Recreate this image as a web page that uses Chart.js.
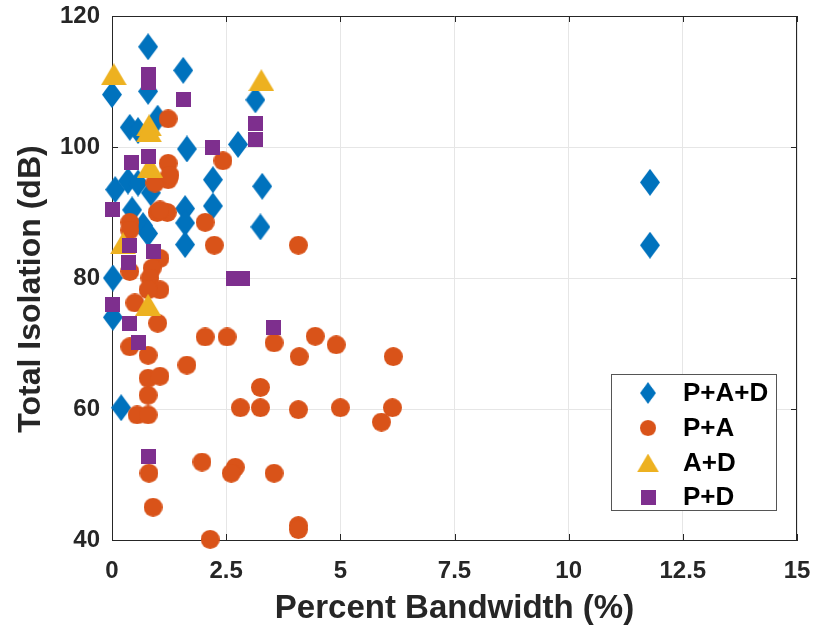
<!DOCTYPE html>
<html><head><meta charset="utf-8">
<script src="https://cdn.jsdelivr.net/npm/chart.js@4"></script>
<style>html,body{margin:0;padding:0;background:#fff}#wrap{width:815px;height:632px}</style>
</head><body><div id="wrap"><canvas id="c" width="815" height="632"></canvas></div>
<script>
const seriesNames = ['P+A+D', 'P+A', 'A+D', 'P+D'];
const xTitle = 'Percent Bandwidth (%)';
const yTitle = 'Total Isolation (dB)';

const padX = [0.0, 0.79, 0.79, 1.56, 3.14, 0.39, 0.57, 1.0, 1.64, 2.76, 0.07, 0.35, 0.57, 0.44, 0.68, 0.79, 0.85, 2.21, 2.21, 1.6, 1.6, 1.6, 3.29, 3.25, 0.02, 0.02, 0.2, 11.78, 11.78];
const padY = [108, 115.3, 108.5, 111.7, 107.2, 103, 102.5, 104.4, 99.7, 100.4, 93.5, 94.8, 94.5, 90.4, 88, 86.8, 93, 95, 91, 90.6, 88.4, 85.1, 94, 87.8, 80, 74, 60.2, 94.6, 85];

const paX = [1.23, 2.43, 1.23, 1.23, 0.94, 0.99, 1.21, 0.39, 0.39, 2.04, 2.24, 1.05, 0.88, 0.39, 0.83, 1.05, 0.79, 0.5, 1.0, 0.39, 0.79, 2.04, 2.52, 1.64, 3.55, 4.1, 4.45, 4.91, 6.16, 0.79, 1.05, 0.79, 0.55, 0.79, 3.25, 2.81, 3.25, 4.08, 5.0, 6.14, 5.9, 1.97, 2.7, 2.61, 3.55, 0.81, 0.9, 2.15, 4.08, 4.08, 4.08, 1.27, 1.05];
const paY = [104.3, 97.9, 97.5, 95, 94.5, 90, 90, 88.5, 87.3, 88.5, 85, 83, 81.5, 81, 80, 78.2, 78.2, 76.2, 73.1, 69.5, 68.2, 71, 71, 66.7, 70.1, 68, 71.1, 69.8, 68, 64.7, 65, 62.1, 59.1, 59.1, 63.3, 60.2, 60.2, 59.9, 60.2, 60.2, 58, 51.9, 51.1, 50.2, 50.2, 50.2, 45, 40.1, 42.2, 41.6, 85, 95.7, 90.4];

const adX = [0.04, 3.27, 0.81, 0.81, 0.83, 0.24, 0.79];
const adY = [111.1, 110.2, 103.3, 102.4, 97, 85.3, 75.9];

const pdX = [0.79, 0.79, 1.56, 3.14, 3.14, 2.21, 0.42, 0.81, 0.0, 0.39, 0.9, 0.37, 2.65, 2.85, 0.0, 0.39, 0.57, 3.53, 0.81];
const pdY = [111.1, 109.9, 107.2, 103.6, 101.2, 100, 97.6, 98.5, 90.4, 85, 84, 82.3, 80, 80, 76, 73.1, 70.1, 72.5, 52.7];

const xTickValues = [0, 2.5, 5, 7.5, 10, 12.5, 15];
const xTickLabels = ['0', '2.5', '5', '7.5', '10', '12.5', '15'];
const yTickValues = [40, 60, 80, 100, 120];
const yTickLabels = ['40', '60', '80', '100', '120'];

const colors = ['#0072BD', '#D95319', '#EDB120', '#7E2F8E'];

function makeMarker(shape, color) {
  const c = document.createElement('canvas');
  let w, h;
  if (shape === 'diamond') { w = 20; h = 27; }
  else if (shape === 'circle') { w = 19; h = 19; }
  else if (shape === 'triangle') { w = 26; h = 22; }
  else { w = 15; h = 15; }
  c.width = w; c.height = h;
  const g = c.getContext('2d');
  g.fillStyle = color;
  g.beginPath();
  if (shape === 'diamond') {
    g.moveTo(w / 2, 0); g.lineTo(w, h / 2); g.lineTo(w / 2, h); g.lineTo(0, h / 2); g.closePath();
  } else if (shape === 'circle') {
    g.arc(w / 2, h / 2, w / 2, 0, Math.PI * 2);
  } else if (shape === 'triangle') {
    g.moveTo(w / 2, 0); g.lineTo(w, h); g.lineTo(0, h); g.closePath();
  } else {
    g.rect(0, 0, w, h);
  }
  g.fill();
  return c;
}
const shapes = ['diamond', 'circle', 'triangle', 'square'];
const markers = shapes.map((s, i) => makeMarker(s, colors[i]));

function pts(xs, ys) { return xs.map((x, i) => ({ x: x, y: ys[i] })); }
const seriesData = [pts(padX, padY), pts(paX, paY), pts(adX, adY), pts(pdX, pdY)];

const FONT = '"Liberation Sans", Arial, sans-serif';
const AXC = '#262626';

const borderPlugin = {
  id: 'borderPlugin',
  beforeDatasetsDraw(chart) {
    const { ctx, chartArea: a, scales } = chart;
    ctx.save();
    ctx.strokeStyle = AXC; ctx.lineWidth = 1;
    ctx.beginPath();
    ctx.moveTo(a.left, a.top + 0.5); ctx.lineTo(a.right, a.top + 0.5);
    ctx.moveTo(a.right - 0.5, a.top); ctx.lineTo(a.right - 0.5, a.bottom);
    xTickValues.forEach(v => {
      const px = Math.round(scales.x.getPixelForValue(v)) + 0.5;
      ctx.moveTo(px, a.bottom); ctx.lineTo(px, a.bottom - 6);
      ctx.moveTo(px, a.top); ctx.lineTo(px, a.top + 6);
    });
    yTickValues.forEach(v => {
      const py = Math.round(scales.y.getPixelForValue(v)) + 0.5;
      ctx.moveTo(a.left, py); ctx.lineTo(a.left + 6, py);
      ctx.moveTo(a.right, py); ctx.lineTo(a.right - 6, py);
    });
    ctx.stroke();
    // y-axis title
    ctx.save();
    ctx.translate(31, 289);
    ctx.rotate(-Math.PI / 2);
    ctx.font = 'bold 32px ' + FONT;
    ctx.fillStyle = AXC;
    ctx.textAlign = 'center';
    ctx.textBaseline = 'middle';
    ctx.fillText(yTitle, 0, 0);
    ctx.restore();
    ctx.restore();
  }
};

const legendPlugin = {
  id: 'boxLegend',
  afterDraw(chart) {
    const ctx = chart.ctx;
    const left = 611, top = 374, w = 165, h = 136;
    ctx.save();
    ctx.fillStyle = '#fff';
    ctx.fillRect(left, top, w, h);
    ctx.strokeStyle = '#555'; ctx.lineWidth = 1;
    ctx.strokeRect(left + 0.5, top + 0.5, w, h);
    ctx.font = 'bold 26px ' + FONT;
    ctx.fillStyle = '#000';
    ctx.textBaseline = 'middle';
    ctx.textAlign = 'left';
    const rowY = [393, 428, 463, 497];
    seriesNames.forEach((name, i) => {
      const m = markers[i];
      const s = i === 0 ? 0.8 : (i === 3 ? 1 : 0.85);
      const mw = m.width * s, mh = m.height * s;
      ctx.drawImage(m, 648 - mw / 2, rowY[i] - mh / 2, mw, mh);
      ctx.fillText(name, 683, rowY[i] + 1);
    });
    ctx.restore();
  }
};

const datasets = seriesNames.map((name, i) => ({
  label: name,
  data: seriesData[i],
  pointStyle: markers[i],
  pointRadius: 10,
  backgroundColor: colors[i],
  borderColor: colors[i],
  showLine: false,
  clip: false,
  order: 4 - i
}));

new Chart(document.getElementById('c'), {
  type: 'scatter',
  data: { datasets: datasets },
  options: {
    responsive: false,
    animation: false,
    devicePixelRatio: 1,
    layout: { padding: { top: 16, right: 18, left: 0, bottom: 0 } },
    plugins: { legend: { display: false }, tooltip: { enabled: false } },
    scales: {
      x: {
        type: 'linear', min: 0, max: 15,
        afterBuildTicks: s => { s.ticks = xTickValues.map(v => ({ value: v })); },
        afterFit: s => { s.height = 92; s.paddingLeft = 0; s.paddingRight = 0; },
        ticks: {
          callback: (v) => xTickLabels[xTickValues.indexOf(v)],
          font: { family: FONT, size: 24, weight: 'bold' }, color: AXC,
          padding: 17, maxRotation: 0, autoSkip: false
        },
        grid: { color: '#e6e6e6', drawTicks: false, lineWidth: 1 },
        border: { color: AXC, width: 1 },
        title: { display: true, text: xTitle, font: { family: FONT, size: 33, weight: 'bold' }, color: AXC, padding: { top: 0, bottom: 3 } }
      },
      y: {
        type: 'linear', min: 40, max: 120,
        afterBuildTicks: s => { s.ticks = yTickValues.map(v => ({ value: v })); },
        afterFit: s => { s.width = 112; s.paddingTop = 0; s.paddingBottom = 0; },
        ticks: {
          callback: (v) => yTickLabels[yTickValues.indexOf(v)],
          font: { family: FONT, size: 24, weight: 'bold' }, color: AXC,
          padding: 12, autoSkip: false
        },
        grid: { color: '#e6e6e6', drawTicks: false, lineWidth: 1 },
        border: { color: AXC, width: 1 },
        title: { display: false, text: yTitle }
      }
    }
  },
  plugins: [borderPlugin, legendPlugin]
});
</script>
</body></html>
